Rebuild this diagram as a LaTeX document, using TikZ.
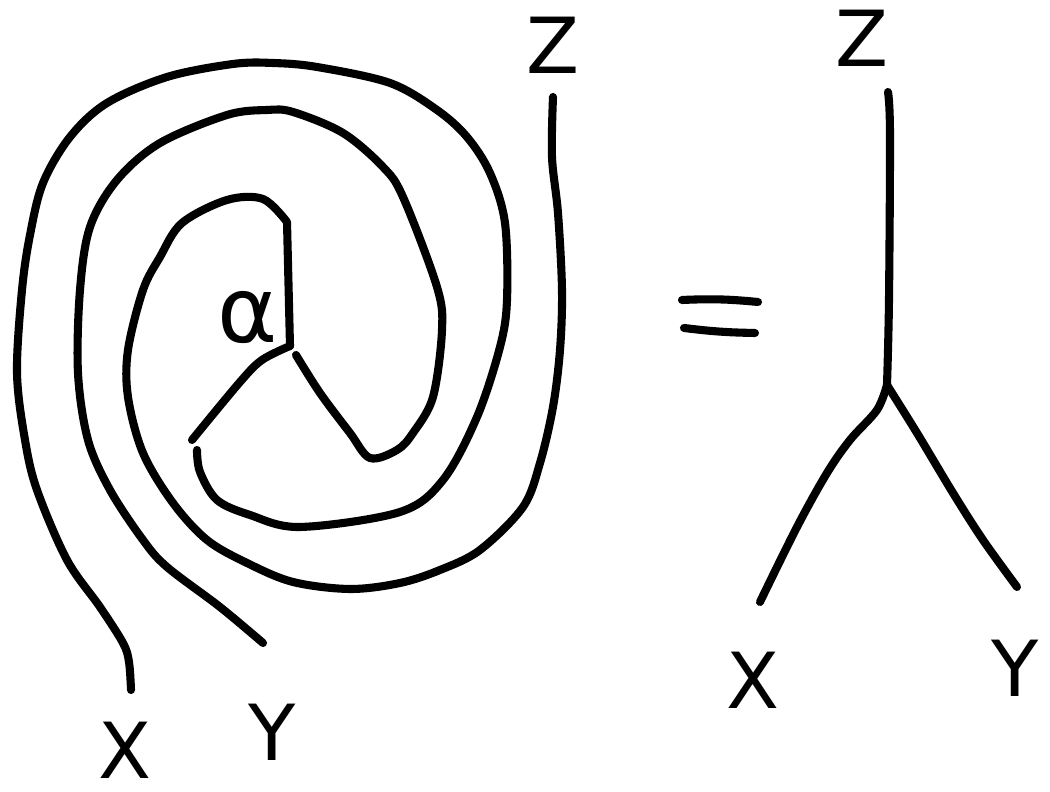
\documentclass[tikz,border=0pt]{standalone}
\usepackage{fontspec}
\setmainfont{DejaVu Sans}
\usepackage{tikz}
\usetikzlibrary{calc}

\begin{document}
\begin{tikzpicture}[x=0.01cm,y=-0.01cm,line cap=round,line join=round,
  strand/.style={line width=2.3pt},
  lbl/.style={font=\fontsize{22}{26}\selectfont,inner sep=0pt}]
\useasboundingbox (0,0) rectangle (1050,792);
\coordinate (v) at (290,346); \coordinate (w) at (887,385);
\node[lbl] (xl) at (125,750) {X}; \node[lbl] (yl) at (272,732) {Y}; \node[lbl] (zl) at (553,45) {Z};
\node[lbl,font=\fontsize{26}{30}\selectfont] (al) at (248,318) {α};
\node[lbl] (xr) at (753,680) {X}; \node[lbl] (yr) at (1015,668) {Y}; \node[lbl] (zr) at (862,38) {Z};
\draw[strand] plot[smooth,tension=0.55] coordinates {(131,690) (129,662) (123,643) (100,607) (67,560) (37,490) (25,440) (17,373) (22,290) (30,235) (43,183) (70,137) (107,103) (167,77) (233,64) (273,63) (317,67) (390,83) (437,110) (467,137) (490,173) (505,223) (507,300) (500,347) (477,417) (443,480) (400,512) (300,527) (250,515) (217,500) (200,472) (197,450)};
\draw[strand] plot[smooth,tension=0.55] coordinates {(553,97) (552,157) (558,213) (562,290) (560,350) (553,407) (540,463) (523,507) (480,550) (440,570) (400,583) (350,589) (293,582) (247,563) (207,540) (173,503) (143,453) (128,397) (128,350) (143,290) (160,257) (182,223) (227,200) (263,199) (287,222)} -- (v);
\draw[strand] plot[smooth,tension=0.55] coordinates {(263,643) (220,607) (167,567) (143,540) (110,490) (88,440) (78,373) (80,290) (90,227) (117,180) (160,143) (227,115) (267,110) (293,112) (343,133) (383,167) (403,197) (437,287) (442,330) (433,397) (413,433) (397,450) (370,458) (350,433) (320,393) (296,355)};
\draw[strand] plot[smooth,tension=0.55] coordinates {(v) (262,360) (240,382) (192,440)};
\draw[strand] plot[smooth,tension=0.55] coordinates {(888,92) (890,133) (889,300) (w)};
\draw[strand] plot[smooth,tension=0.55] coordinates {(w) (877,410) (850,440) (827,473) (797,527) (760,602)};
\draw[strand] plot[smooth,tension=0.55] coordinates {(w) (917,433) (953,493) (983,540) (1017,587)};
\draw[strand] (682,300) to[bend left=4] (758,302);
\draw[strand] (684,328) to[bend right=3] (755,333);
\end{tikzpicture}
\end{document}
